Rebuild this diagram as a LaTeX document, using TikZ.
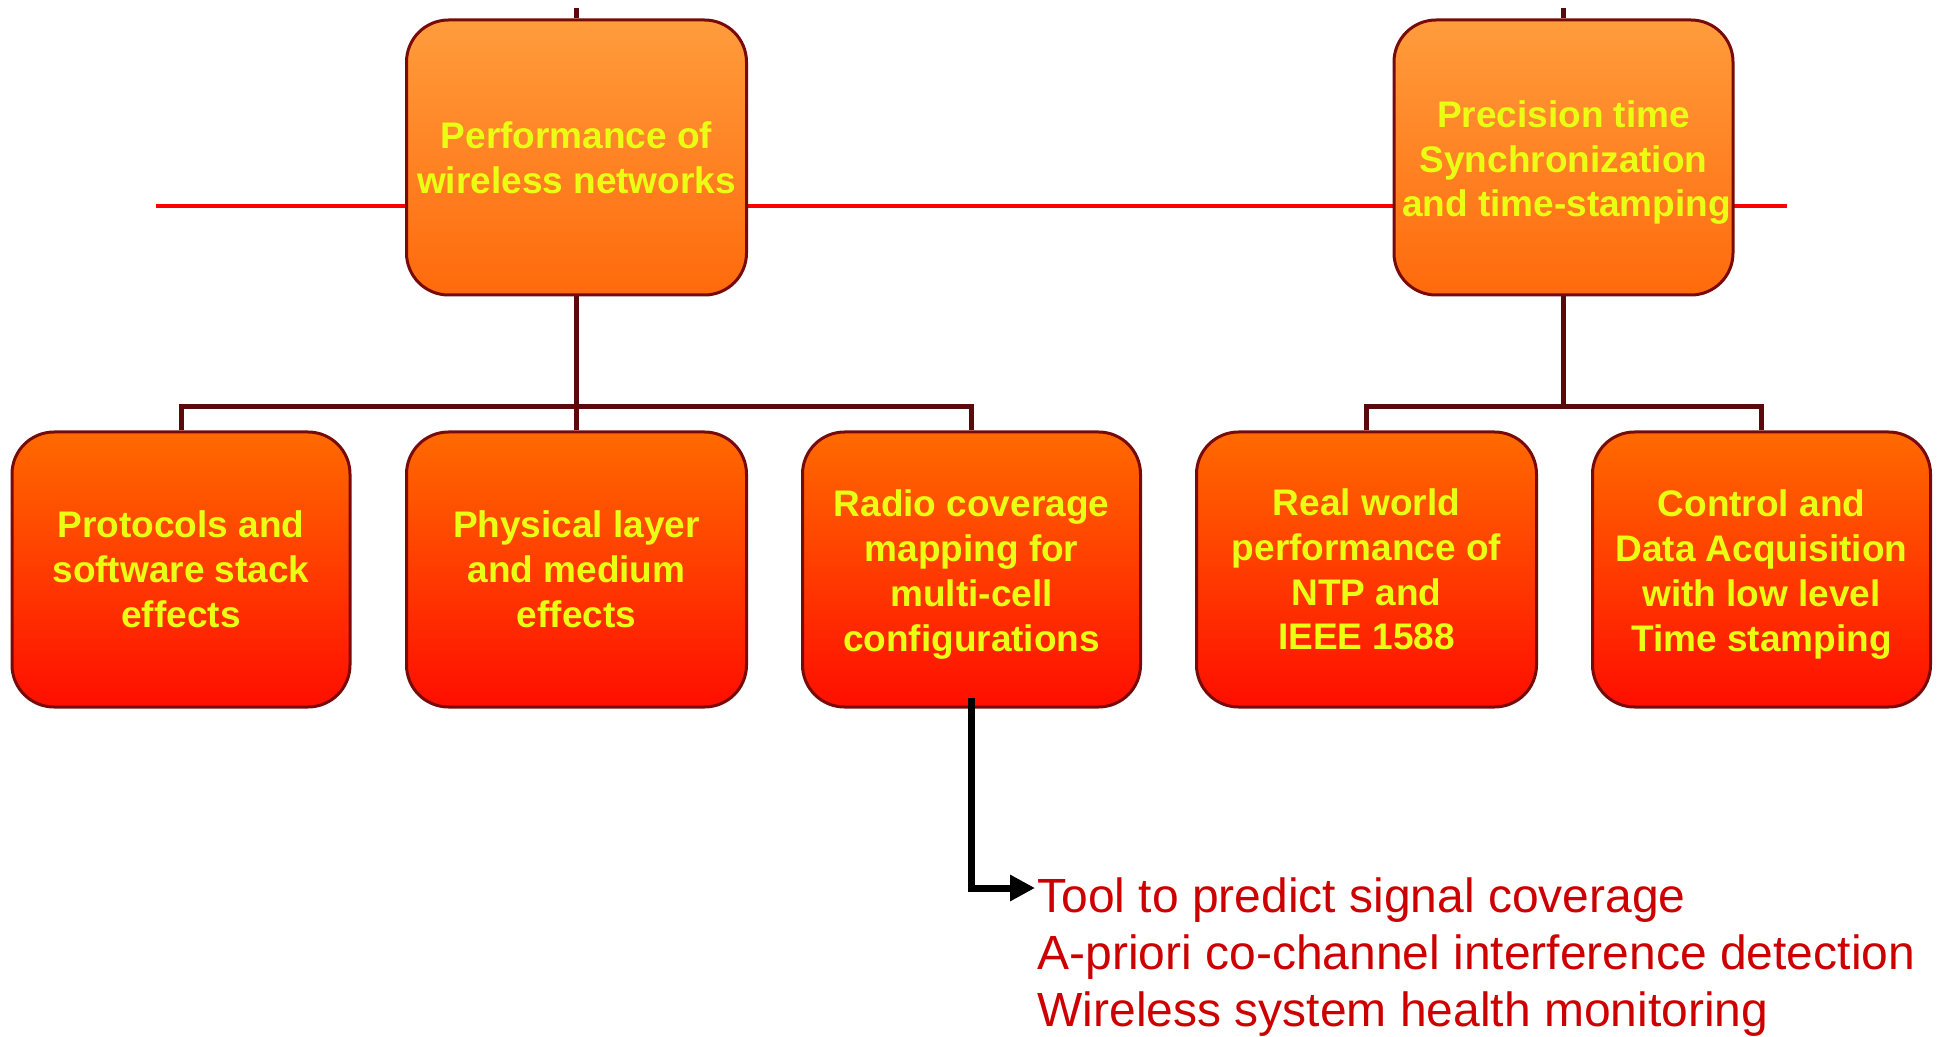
\documentclass[tikz,border=0pt]{standalone}
\usepackage{fontspec}
\setmainfont{Liberation Sans}
\usetikzlibrary{arrows.meta}

\definecolor{edgered}{RGB}{120,10,10}
\definecolor{busbrown}{RGB}{90,10,10}
\definecolor{labelyellow}{RGB}{234,255,20}
\definecolor{noteRed}{RGB}{204,0,0}
\definecolor{topA}{RGB}{255,156,60}
\definecolor{topB}{RGB}{255,106,12}
\definecolor{lowA}{RGB}{255,106,0}
\definecolor{lowB}{RGB}{255,14,0}

% invisible strut that lowers a block of box text a little
\newcommand{\boxlift}{\rule{0pt}{18.5pt}}

\tikzset{
  box/.style={rectangle, rounded corners=21pt, draw=edgered, line width=1.5pt,
    minimum width=170pt, minimum height=137.5pt, inner sep=0pt,
    align=center, text=labelyellow,
    font=\fontsize{18.5pt}{22.4pt}\selectfont\bfseries},
  headbox/.style={box, top color=topA, bottom color=topB},
  leafbox/.style={box, top color=lowA, bottom color=lowB},
  bus/.style={draw=busbrown, line width=2.5pt, line join=miter},
  axisline/.style={draw=red, line width=2pt},
  pointer/.style={draw=black, line width=3.5pt, line join=miter,
    -{Triangle[length=12.5pt,width=12.5pt]}},
  note/.style={anchor=base west, inner sep=0pt, text=noteRed,
    font=\fontsize{24pt}{28.5pt}\selectfont}
}

\begin{document}
\begin{tikzpicture}[x=0.5pt, y=-0.5pt]
\useasboundingbox (0,0) rectangle (1939,1037);

% horizontal rule behind the two headline boxes
\coordinate (ruleL) at (156,206);
\coordinate (ruleR) at (1787,206);
\draw[axisline] (ruleL) -- (ruleR);

% headline boxes
\node[headbox] (perf) at (576.5,157.5) {Performance of\\wireless networks};
\node[headbox, minimum width=169.5pt] (sync) at (1563.5,157.5)
  {\boxlift Precision time\\Synchronization\\\hspace*{3pt}and time-stamping};

% leaf boxes
\node[leafbox, minimum width=169pt] (proto) at (181,569.5)
  {Protocols and\\software stack\\effects};
\node[leafbox] (phys) at (576.5,569.5) {Physical layer\\and medium\\effects};
\node[leafbox, minimum width=169pt] (radio) at (971.5,569.5)
  {\boxlift Radio coverage\\mapping for\\multi-cell\\configurations};
\node[leafbox] (ntp) at (1366.5,569.5)
  {Real world\\performance of\\NTP and\\IEEE 1588};
\node[leafbox, minimum width=169pt] (daq) at (1761.5,569.5)
  {\boxlift Control and\\Data Acquisition\\with low level\\Time stamping};

% stubs above the headline boxes
\coordinate (perfUp) at (576.5,8);
\coordinate (syncUp) at (1563.5,8);
\draw[bus] (perf.north) -- (perfUp);
\draw[bus] (sync.north) -- (syncUp);

% left tree
\draw[bus] (proto.north) -- ++(0,-24) -| (radio.north);
\draw[bus] (perf.south) -- (phys.north);

% right tree
\path (ntp.north) ++(0,-24) coordinate (busR);
\draw[bus] (ntp.north) -- (busR) -| (daq.north);
\draw[bus] (sync.south) -- (sync.south |- busR);

% notes on radio coverage mapping
\node[note] (note1) at (1037,912) {Tool to predict signal coverage};
\node[note] (note2) at (1037,969) {A-priori co-channel interference detection};
\node[note] (note3) at (1037,1026) {Wireless system health monitoring};

\coordinate (tip) at (1035,888);
\draw[pointer] ([yshift=5.5pt]radio.south) |- (tip);
\end{tikzpicture}
\end{document}
